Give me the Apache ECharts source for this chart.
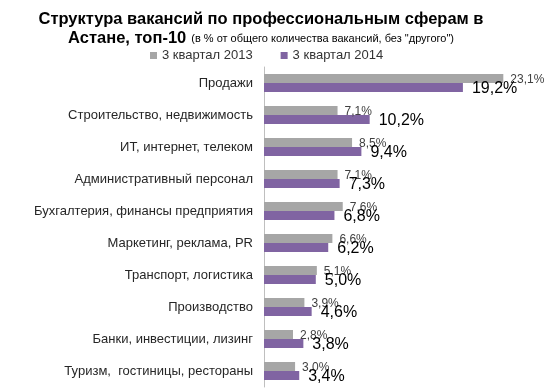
<!DOCTYPE html>
<html><head><meta charset="utf-8">
<script src="https://cdn.jsdelivr.net/npm/echarts@6/dist/echarts.min.js"></script>
<style>html,body{margin:0;padding:0;background:#fff}#c{width:549px;height:389px}</style>
</head><body><div id="c"></div>
<script>
const categories = ["Продажи","Строительство, недвижимость","ИТ, интернет, телеком","Административный персонал","Бухгалтерия, финансы предприятия","Маркетинг, реклама, PR","Транспорт, логистика","Производство","Банки, инвестиции, лизинг","Туризм,  гостиницы, рестораны"];
const q2013 = [23.1,7.1,8.5,7.1,7.6,6.6,5.1,3.9,2.8,3.0];
const q2014 = [19.2,10.2,9.4,7.3,6.8,6.2,5.0,4.6,3.8,3.4];
const seriesNames = ["3 квартал 2013","3 квартал 2014"];
const font = "Liberation Sans";
const fmt = p => p.value.toFixed(1).replace('.', ',') + '%';
const chart = echarts.init(document.getElementById('c'));
chart.setOption({
  animation:false,
  textStyle:{fontFamily:font},
  title:{
    left:256, top:5, textAlign:'center',
    text:"{b|Структура вакансий по профессиональным сферам в}\n{b|Астане, топ-10} {s|(в % от общего количества вакансий, без \"другого\")}",
    textStyle:{fontWeight:'normal',rich:{
      b:{fontFamily:font,fontWeight:'bold',fontSize:16.5,color:'#000',lineHeight:19},
      s:{fontFamily:font,fontWeight:'normal',fontSize:11,color:'#000',lineHeight:19}
    }}
  },
  legend:{
    top:44, left:145, itemWidth:7, itemHeight:7, itemGap:28, icon:'rect',
    textStyle:{fontFamily:font,fontSize:13,color:'#333'},
    data:seriesNames
  },
  grid:{left:264, right:26, top:67, bottom:2, containLabel:false},
  xAxis:{type:'value', min:0, max:25, show:false, splitLine:{show:false}},
  yAxis:{type:'category', inverse:true, data:categories,
    axisLine:{show:true,lineStyle:{color:'#bfbfbf'}}, axisTick:{show:false},
    axisLabel:{fontFamily:font,fontSize:13,color:'#262626',margin:11}},
  series:[
    {name:seriesNames[0], type:'bar', data:q2013, barWidth:9, barGap:'0%',
     itemStyle:{color:'#A6A6A6'},
     label:{show:true,position:'right',distance:7,offset:[0,1],formatter:fmt,
       fontFamily:font,fontSize:12,color:'#404040'}},
    {name:seriesNames[1], type:'bar', data:q2014, barWidth:9,
     itemStyle:{color:'#8064A2'},
     label:{show:true,position:'right',distance:9,offset:[0,1],formatter:fmt,
       fontFamily:font,fontSize:16,color:'#000'}}
  ]
});
</script></body></html>
